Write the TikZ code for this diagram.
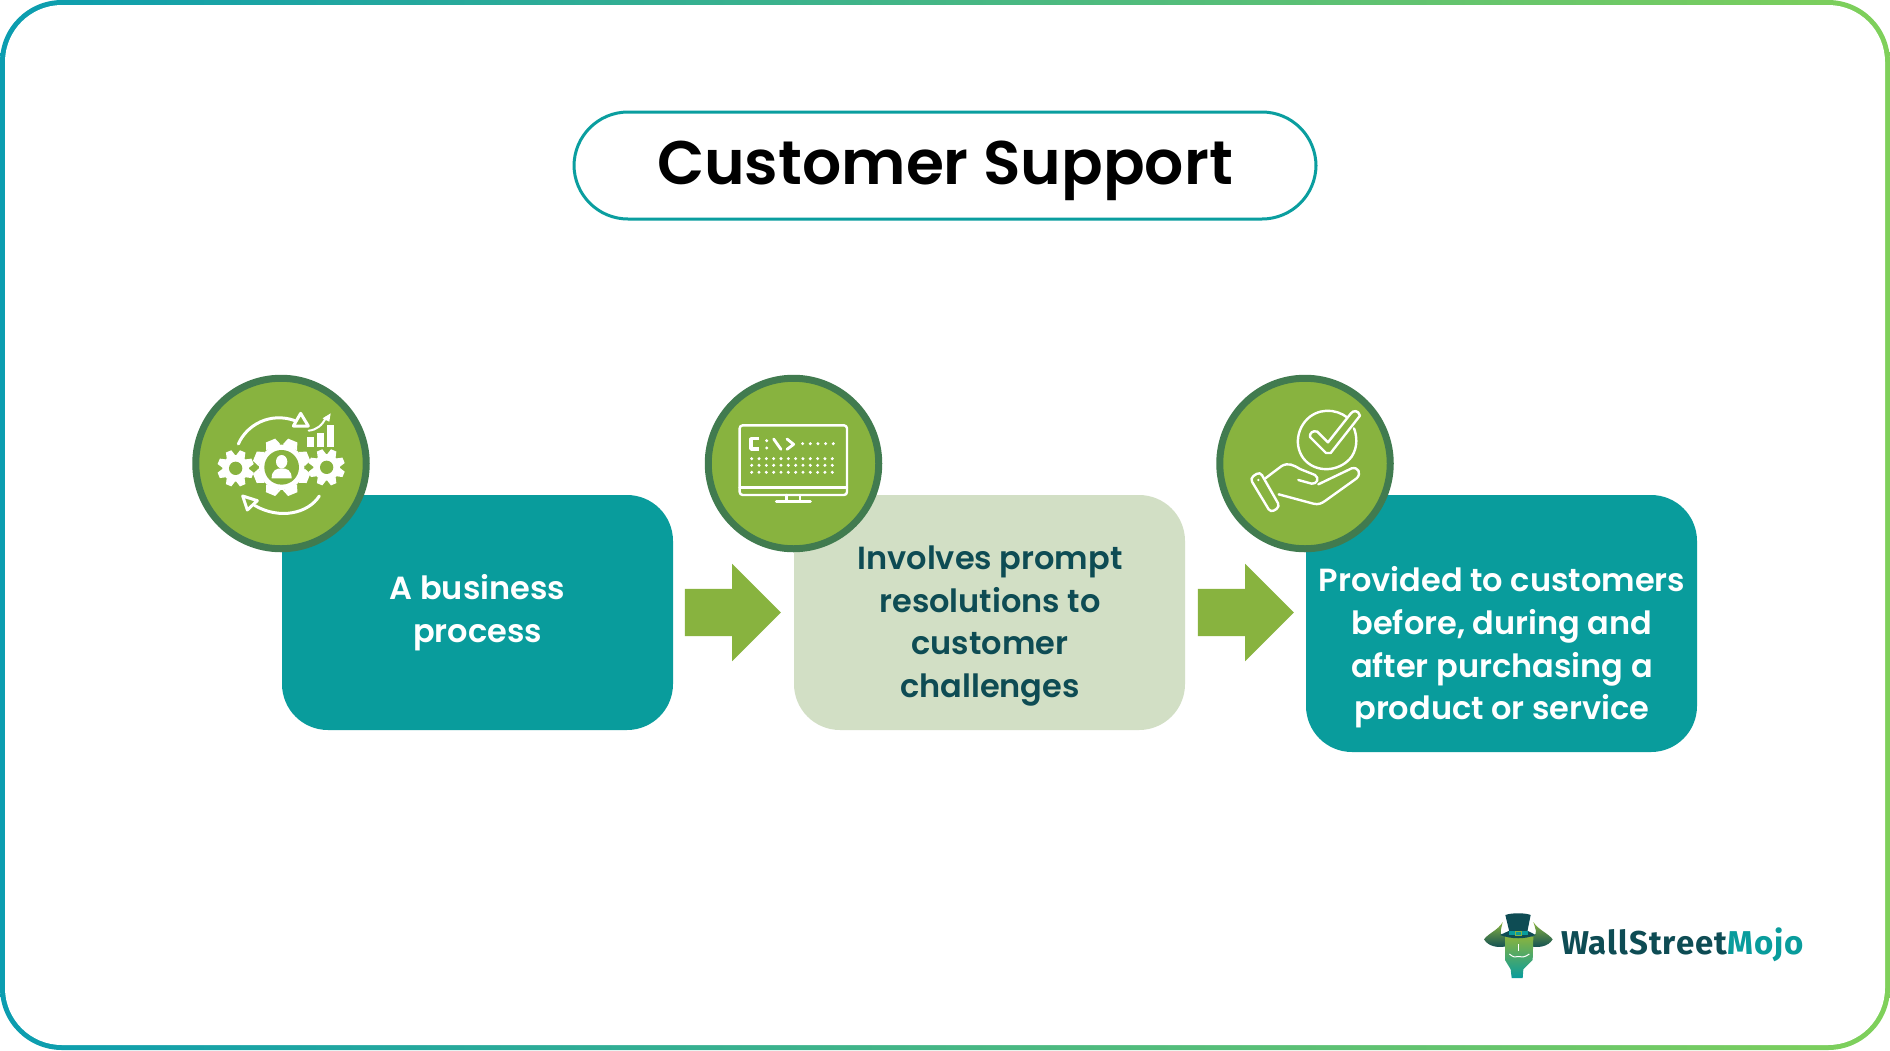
\documentclass[tikz,border=0pt]{standalone}
\usepackage{fontspec}
\usetikzlibrary{shapes.arrows,calc}
\setmainfont{Poppins}
\newfontfamily\semi{Poppins SemiBold}
\newfontfamily\logofont[LetterSpace=3]{Fira Sans Bold}
\definecolor{tealbox}{HTML}{099C9C}
\definecolor{olive}{HTML}{88B33F}
\definecolor{ringgreen}{HTML}{417B4F}
\definecolor{palegreen}{HTML}{D2DFC5}
\definecolor{darkteal}{HTML}{0E4C54}
\definecolor{edgeL}{HTML}{0B9DB0}
\definecolor{edgeR}{HTML}{7FD05A}
\definecolor{titleedge}{HTML}{0A9E9F}
\tikzset{
  every node/.style={inner sep=0pt,outer sep=0pt},
  box/.style={rounded corners=46pt,minimum width=391pt,anchor=north west},
  badge/.style={circle,draw=ringgreen,fill=olive,line width=7pt,minimum size=170.5pt},
  bigarrow/.style={single arrow,fill=olive,minimum height=96pt,minimum width=97pt,single arrow head extend=25pt,single arrow tip angle=90,anchor=center},
  boxtext/.style={align=center,font=\semi\fontsize{32}{42.6}\selectfont},
  ico/.style={draw=white,line width=2.4pt,line cap=round,line join=round},
  ico2/.style={draw=white,line width=3pt,line cap=round,line join=round},
}
\newcommand{\gearshape}[5]{% x y radius toothlen hole
  \fill[white] (#1,#2) circle (#3);
  \foreach \a in {0,45,...,315}{
    \fill[white,rotate around={\a+22.5:(#1,#2)}] ($(#1,#2)+(-#3*0.22,-#3-#4)$) -- ($(#1,#2)+(#3*0.22,-#3-#4)$) -- ($(#1,#2)+(#3*0.34,-#3+3)$) -- ($(#1,#2)+(-#3*0.34,-#3+3)$) -- cycle;
  }
  \fill[olive] (#1,#2) circle (#5);
}
\begin{document}
\begin{tikzpicture}[x=1pt,y=-1pt]
\useasboundingbox (0,0) rectangle (1890,1050);
% frame
\shade[left color=edgeL,right color=edgeR,rounded corners=62pt] (0,0) rectangle (1890,1050);
\fill[white,rounded corners=57pt] (5,5) rectangle (1885,1045);
% title
\node[draw=titleedge,line width=3pt,fill=white,rounded corners=54pt,minimum width=742pt,minimum height=107pt] (title) at (945,165.5) {};
\node[font=\semi\fontsize{61.5}{70}\selectfont] (titletext) at (945,171) {Customer Support};
% boxes
\node[box,fill=tealbox,minimum height=235pt] (b1) at (282,495) {};
\node[box,fill=palegreen,minimum height=235pt] (b2) at (794,495) {};
\node[box,fill=tealbox,minimum height=257pt] (b3) at (1306,495) {};
% texts
\node[boxtext,text=white] (t1) at (477.5,612.5) {A business\\process};
\node[boxtext,text=darkteal] (t2) at (990,626) {Involves prompt\\resolutions to\\customer\\challenges};
\node[boxtext,text=white] (t3) at (1502,647.5) {Provided to customers\\before, during and\\after purchasing a\\product or service};
% arrows
\node[bigarrow] (a1) at (721,612.5) {\rule{0pt}{47pt}};
\node[bigarrow] (a2) at (1234,612.5) {\rule{0pt}{47pt}};
% badges
\node[badge] (c1) at (281,463.5) {};
\node[badge] (c2) at (793.5,463.5) {};
\node[badge] (c3) at (1305,463.5) {};
% icon 1
\begin{scope}[shift={(180,360)},x=0.3333pt,y=-0.3333pt]
  \gearshape{167}{325}{40}{15}{20}
  \gearshape{440}{322}{40}{15}{20}
  \fill[olive] (305,322) circle (80);
  \gearshape{305}{322}{68}{19}{52}
  \fill[white] (305,305) ellipse (17 and 20);
  \fill[white] (275,355) .. controls (275,330) and (290,325) .. (305,325) .. controls (320,325) and (335,330) .. (335,355) -- cycle;
  \draw[ico2] (175,252) .. controls (200,195) and (270,155) .. (345,182);
  \draw[ico2] (362,160) -- (385,198) -- (340,198) -- cycle;
  \draw[ico2] (418,408) .. controls (385,460) and (300,480) .. (225,437);
  \draw[ico2] (188,408) -- (232,422) -- (202,450) -- cycle;
  \fill[white] (381,232) rectangle (402,262);
  \fill[white] (412,218) rectangle (433,262);
  \fill[white] (441,196) rectangle (461,262);
  \draw[white,line width=2pt,line cap=round] (386,212) .. controls (410,210) and (428,195) .. (438,172);
  \fill[white] (428,175) -- (452,160) -- (448,185) -- cycle;
\end{scope}
% icon 2
\begin{scope}[shift={(695,365)},x=0.3333pt,y=-0.3333pt]
  \draw[ico,rounded corners=3pt] (134,181) rectangle (456,390);
  \draw[ico] (134,368) -- (456,368);
  \draw[ico] (275,390) -- (275,410);
  \draw[ico] (315,390) -- (315,410);
  \draw[ico,line width=3pt] (244,411) -- (346,411);
  \draw[ico,line width=3.4pt,line cap=butt] (192,221) -- (168,221) -- (168,252) -- (192,252);
  \fill[white] (215,227) circle (5);
  \fill[white] (215,249) circle (5);
  \draw[ico,line width=2.8pt] (236,222) -- (258,253);
  \draw[ico,line width=2.8pt] (276,222) -- (296,238) -- (276,253);
  \foreach \x in {323,346,...,423} \fill[white] (\x,236) circle (5);
  \foreach \y in {281,301,322} \foreach \x in {170,192,...,422} \fill[white] (\x,\y) circle (5);
\end{scope}
% icon 3
\begin{scope}[shift={(1210,365)},x=0.3333pt,y=-0.3333pt]
  \draw[ico] (425,170) .. controls (395,135) and (340,125) .. (300,155) .. controls (255,190) and (250,260) .. (295,295) .. controls (335,325) and (395,315) .. (425,275) .. controls (445,245) and (440,210) .. (432,190);
  \draw[ico,fill=olive] (300,216) -- (348,264) -- (362,264) -- (450,152) .. controls (445,135) and (430,135) .. (422,146) -- (354,232) -- (322,200) .. controls (308,195) and (298,205) .. (300,216) -- cycle;
  \draw[ico,rounded corners=4pt] (120,340) -- (150,320) -- (210,425) -- (182,443) -- cycle;
  \fill[white] (145,345) circle (4);
  \draw[ico] (166,340) -- (215,303) .. controls (235,292) and (250,300) .. (270,312) -- (315,330) .. controls (330,340) and (320,358) .. (305,356) -- (265,345);
  \draw[ico] (206,388) -- (310,416) .. controls (325,420) and (335,415) .. (345,408) -- (440,340) .. controls (455,325) and (445,305) .. (425,310) -- (325,358);
\end{scope}
% logo
\begin{scope}[shift={(1470,900)},x=0.3333pt,y=-0.3333pt]
  \shade[top color=olive,bottom color=darkteal] (42,118) .. controls (55,100) and (85,90) .. (98,66) .. controls (95,85) and (85,100) .. (100,108) -- (112,110) -- (112,138) .. controls (85,145) and (55,140) .. (42,118) -- cycle;
  \shade[top color=olive,bottom color=darkteal] (248,118) .. controls (235,100) and (205,90) .. (190,66) .. controls (195,85) and (205,100) .. (190,108) -- (178,110) -- (178,138) .. controls (205,145) and (235,140) .. (248,118) -- cycle;
  \shade[top color=olive,middle color=olive,bottom color=tealbox] (105,110) -- (190,110) -- (188,180) -- (160,208) -- (158,234) -- (125,234) -- (122,208) -- (105,180) -- cycle;
  \draw[white,line width=1pt] (145,132) -- (145,152);
  \draw[white,line width=1pt] (118,162) .. controls (130,172) and (135,172) .. (145,170) .. controls (155,172) and (165,172) .. (178,162);
  \fill[darkteal] (106,45) .. controls (125,38) and (165,38) .. (182,45) -- (172,95) -- (118,95) -- cycle;
  \fill[darkteal] (90,105) -- (118,92) -- (172,92) -- (197,105) .. controls (165,118) and (125,118) .. (90,105) -- cycle;
  \fill[tealbox] (116,93) rectangle (174,106);
  \draw[olive,line width=1pt] (136,94) rectangle (154,105);
\end{scope}
\node[anchor=base west,font=\logofont\fontsize{33}{36}\selectfont] (logotext) at (1561,954) {\textcolor{darkteal}{WallStreet}\textcolor{tealbox}{Mojo}};
\end{tikzpicture}
\end{document}
